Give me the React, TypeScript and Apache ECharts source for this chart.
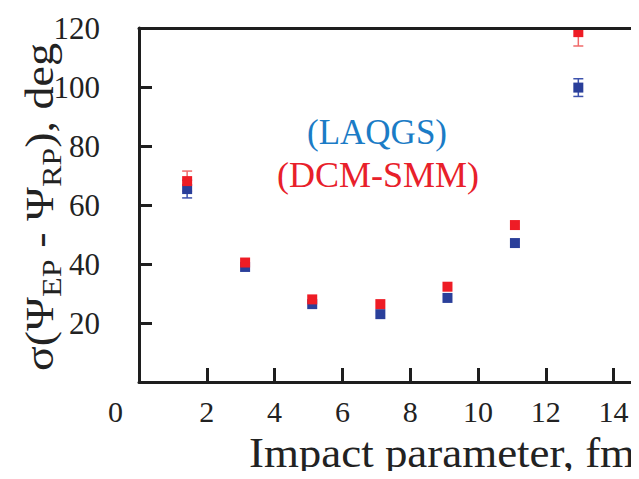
import React, { useEffect, useRef } from 'react';
import * as echarts from 'echarts';

const impact = [1.42, 3.13, 5.11, 7.12, 9.1, 11.09, 12.96];
const laqgs = [65.4, 39.0, 26.4, 23.0, 28.5, 47.1, 99.8];
const laqgsErr = [3, 0, 0, 0, 0, 0, 3];
const dcm = [68.1, 40.5, 28.0, 26.4, 32.3, 53.2, 118.6];
const dcmErr = [3.4, 0, 0, 0, 0, 0, 4.7];

const SERIF = 'Liberation Serif';
const AXIS = '#1e1e1e';
const BLUE = '#2a3f9a';
const RED = '#ee1c25';

function errorSeries(vals: number[], errs: number[], color: string) {
  return {
    type: 'custom',
    clip: true,
    z: 2,
    data: impact.map((x, i) => [x, vals[i], errs[i]]),
    renderItem: (params: any, api: any) => {
      const x = api.value(0);
      const y = api.value(1);
      const e = api.value(2);
      if (!e) return null;
      const top = api.coord([x, y + e]);
      const bot = api.coord([x, y - e]);
      const cap = 5;
      const st = { stroke: color, lineWidth: 1.5 };
      return {
        type: 'group',
        children: [
          { type: 'line', shape: { x1: top[0], y1: top[1], x2: bot[0], y2: bot[1] }, style: st },
          { type: 'line', shape: { x1: top[0] - cap, y1: top[1], x2: top[0] + cap, y2: top[1] }, style: st },
          { type: 'line', shape: { x1: bot[0] - cap, y1: bot[1], x2: bot[0] + cap, y2: bot[1] }, style: st },
        ],
      };
    },
  };
}

export default function App() {
  const ref = useRef<HTMLDivElement>(null);
  useEffect(() => {
    if (!ref.current) return;
    const chart = echarts.init(ref.current, null, { renderer: 'svg' });
    const option: any = {
      animation: false,
      backgroundColor: '#ffffff',
      textStyle: { fontFamily: SERIF },
      grid: { left: 139, top: 28, right: 0, bottom: 97, containLabel: false },
      xAxis: [
        {
          type: 'value',
          min: 0,
          max: 14.75,
          interval: 2,
          splitLine: { show: false },
          axisLine: { show: true, onZero: false, lineStyle: { color: AXIS, width: 3 } },
          axisTick: { show: true, inside: true, length: 14, lineStyle: { color: AXIS, width: 3 } },
          axisLabel: {
            show: true,
            margin: 14,
            showMaxLabel: false,
            color: '#222',
            fontFamily: SERIF,
            fontSize: 30,
            formatter: (v: number) => (v === 0 ? '{z|0}' : v % 2 === 0 ? String(v) : ''),
            rich: { z: { fontFamily: SERIF, fontSize: 30, color: '#222', padding: [0, 47, 0, 0] } },
          },
        },
        {
          type: 'value',
          position: 'top',
          min: 0,
          max: 14.75,
          z: 6,
          splitLine: { show: false },
          axisLine: { show: true, onZero: false, lineStyle: { color: AXIS, width: 3 } },
          axisTick: { show: false },
          axisLabel: { show: false },
        },
      ],
      yAxis: {
        type: 'value',
        min: 0,
        max: 120,
        interval: 20,
        splitLine: { show: false },
        axisLine: { show: true, onZero: false, lineStyle: { color: AXIS, width: 3 } },
        axisTick: { show: true, inside: true, length: 13, lineStyle: { color: AXIS, width: 3 } },
        axisLabel: {
          margin: 39,
          color: '#222',
          fontFamily: SERIF,
          fontSize: 31,
          formatter: (v: number) => (v === 0 ? '' : String(v)),
        },
      },
      series: [
        errorSeries(laqgs, laqgsErr, '#3d52ad'),
        {
          type: 'scatter',
          symbol: 'rect',
          symbolSize: 10,
          z: 3,
          itemStyle: { color: BLUE, opacity: 1 },
          data: impact.map((x, i) => [x, laqgs[i]]),
        },
        errorSeries(dcm, dcmErr, '#f06a6a'),
        {
          type: 'scatter',
          symbol: 'rect',
          symbolSize: 10,
          z: 4,
          itemStyle: { color: RED, opacity: 1 },
          data: impact.map((x, i) => [x, dcm[i]]),
        },
      ],
      graphic: [
        {
          type: 'text',
          x: 40,
          y: 207,
          rotation: Math.PI / 2,
          scaleX: 1.15,
          style: {
            text: '{m|σ(Ψ}{s|EP}{m| - Ψ}{s|RP}{m|), deg}',
            align: 'center',
            verticalAlign: 'middle',
            fill: '#222',
            fontFamily: SERIF,
            rich: {
              m: { fontFamily: SERIF, fontSize: 40, fill: '#222', color: '#222' },
              s: { fontFamily: SERIF, fontSize: 28, fill: '#222', color: '#222', padding: [24, 0, 0, 0] },
            },
          },
        },
        {
          type: 'text',
          x: 442,
          y: 453,
          scaleX: 1.07,
          style: {
            text: 'Impact parameter, fm',
            fontFamily: SERIF,
            fontSize: 42,
            fill: '#222',
            align: 'center',
            verticalAlign: 'middle',
          },
        },
        {
          type: 'text',
          x: 377,
          y: 132,
          style: {
            text: '(LAQGS)',
            fontFamily: SERIF,
            fontSize: 35,
            fill: '#1b7cc6',
            align: 'center',
            verticalAlign: 'middle',
          },
        },
        {
          type: 'text',
          x: 378,
          y: 175,
          style: {
            text: '(DCM-SMM)',
            fontFamily: SERIF,
            fontSize: 36,
            fill: '#e8202a',
            align: 'center',
            verticalAlign: 'middle',
          },
        },
      ],
    };
    chart.setOption(option);
    return () => chart.dispose();
  }, []);
  return <div ref={ref} style={{ width: 639, height: 479, margin: -8 }} />;
}
